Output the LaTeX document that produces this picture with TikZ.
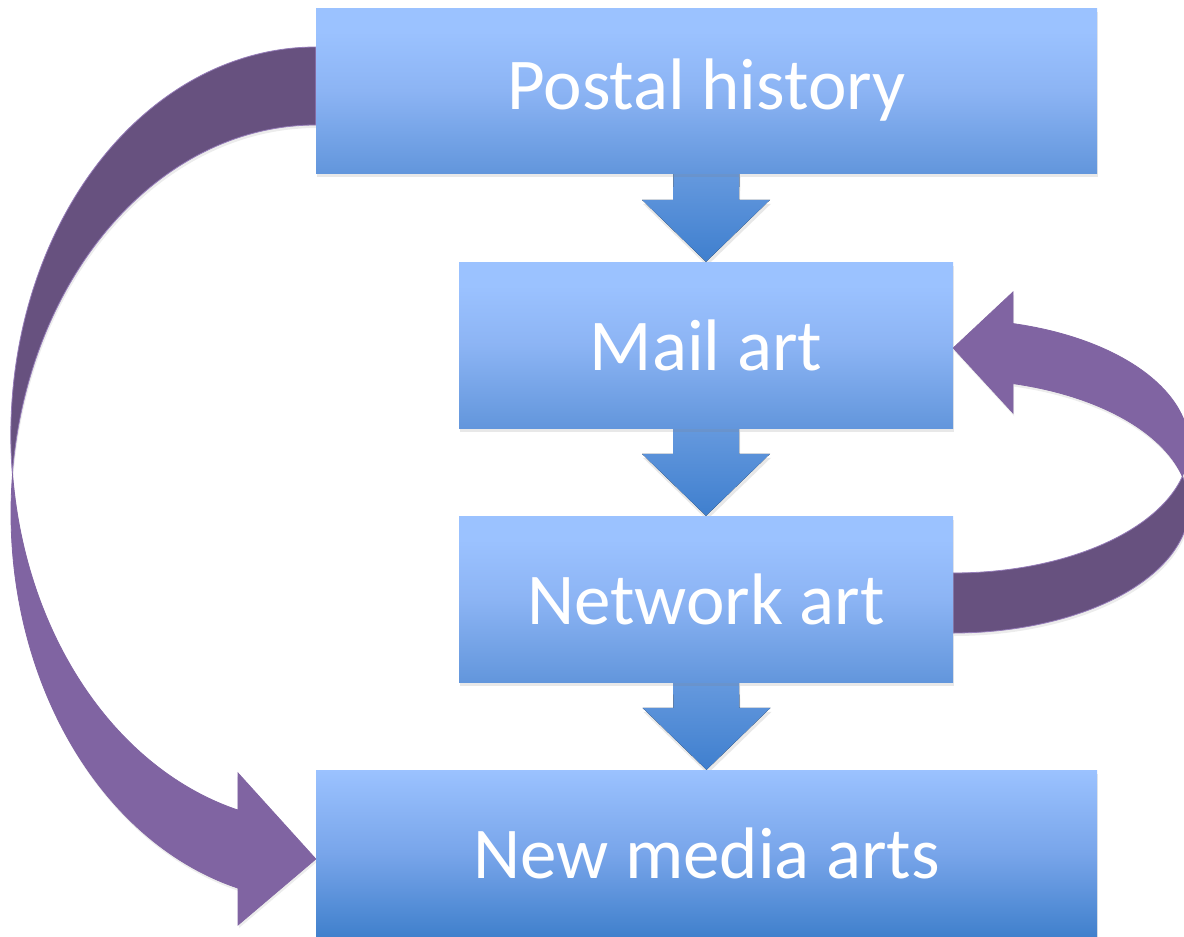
\documentclass[tikz,border=0pt]{standalone}
\usepackage{fontspec}
\setmainfont{Carlito}
\usetikzlibrary{calc,shadows}
\definecolor{boxtop}{HTML}{9BC2FF}
\definecolor{boxmid}{HTML}{8CB4F4}
\definecolor{boxbot}{HTML}{6296DC}
\definecolor{lastmid}{HTML}{78A5EA}
\definecolor{lastbot}{HTML}{4080CC}
\definecolor{arrowtop}{HTML}{6599DE}
\definecolor{arrowbot}{HTML}{3F7FCE}
\definecolor{purpleback}{HTML}{67517F}
\definecolor{purplefront}{HTML}{8064A2}
\definecolor{purpleedge}{HTML}{957CB8}
\pgfdeclareverticalshading{boxshade}{100bp}{color(0bp)=(boxbot); color(25bp)=(boxbot); color(50bp)=(boxmid); color(68bp)=(boxtop); color(100bp)=(boxtop)}
\pgfdeclareverticalshading{lastshade}{100bp}{color(0bp)=(lastbot); color(25bp)=(lastbot); color(50bp)=(lastmid); color(75bp)=(boxtop); color(100bp)=(boxtop)}
\pgfdeclarelayer{background}
\pgfsetlayers{background,main}
\tikzset{
  boxnode/.style={rectangle, shading=boxshade, text=white, inner sep=0pt,
    font=\fontsize{73}{80}\selectfont,
    drop shadow={shadow xshift=1pt, shadow yshift=-4pt, opacity=0.18}},
  downarrow/.style={top color=arrowtop, bottom color=arrowbot,
    drop shadow={shadow xshift=1pt, shadow yshift=-4pt, opacity=0.18}},
  backside/.style={fill=purpleback, draw=purpleedge, line width=0.8pt,
    drop shadow={shadow xshift=1pt, shadow yshift=-3pt, opacity=0.15}},
  frontside/.style={fill=purplefront, draw=purplefront, line width=0.8pt,
    drop shadow={shadow xshift=1pt, shadow yshift=-3pt, opacity=0.15}}
}
\begin{document}
\begin{tikzpicture}[x=1pt, y=-1pt]
    \useasboundingbox (0,0) rectangle (1184,937);
    \clip (0,0) rectangle (1184,937);
    % Draw the four stages.
    \node[boxnode, minimum width=781, minimum height=165] (postal) at (706.5,90.5) {Postal history};
    \node[boxnode, minimum width=494, minimum height=166] (mail) at (706,345) {Mail art};
    \node[boxnode, minimum width=494, minimum height=166] (net) at (706,599) {Network art};
    \node[boxnode, shading=lastshade, minimum width=781, minimum height=167] (newmedia) at (706.5,853.5) {New media arts};
    \begin{pgfonlayer}{background}
    % Draw the block arrows going down from one stage to the next.
    \foreach \a/\b in {postal/mail, mail/net, net/newmedia}
      \fill[downarrow] ($(\a.south)+(-33,0)$) -- ($(\b.north)+(-33,-62)$) -- ($(\b.north)+(-64,-62)$)
        -- (\b.north) -- ($(\b.north)+(64,-62)$) -- ($(\b.north)+(33,-62)$) -- ($(\a.south)+(33,0)$) -- cycle;
    % Draw the long curved arrow from postal history to new media arts (two shifted ellipses).
    \coordinate (ltwist) at (12.54,474);
    \fill[backside] (postal.west |- 0,47) arc[start angle=270, end angle=174.23, x radius=305, y radius=388]
      arc[start angle=185.77, end angle=270, x radius=305, y radius=388] -- cycle;
    \fill[frontside] (ltwist) arc[start angle=174.23, end angle=104.82, x radius=305, y radius=388]
      -- (238,773) -- (newmedia.west |- 0,859) -- (238,925) -- (238,888.1)
      arc[start angle=104.82, end angle=185.77, x radius=305, y radius=388] -- cycle;
    % Draw the curved arrow from network art back to mail art.
    \coordinate (rtwist) at (1182.3,476.2);
    \fill[backside] (net.east |- 0,633) arc[start angle=90, end angle=-13.69, x radius=236, y radius=126.8]
      arc[start angle=13.69, end angle=90, x radius=236, y radius=126.8] -- cycle;
    \fill[frontside] (rtwist) arc[start angle=13.69, end angle=-75.27, x radius=236, y radius=126.8]
      -- (1013,292) -- (mail.east |- 0,348) -- (1013,413) -- (1013,383.6)
      arc[start angle=-75.27, end angle=-13.69, x radius=236, y radius=126.8] -- cycle;
    \end{pgfonlayer}
\end{tikzpicture}
\end{document}
